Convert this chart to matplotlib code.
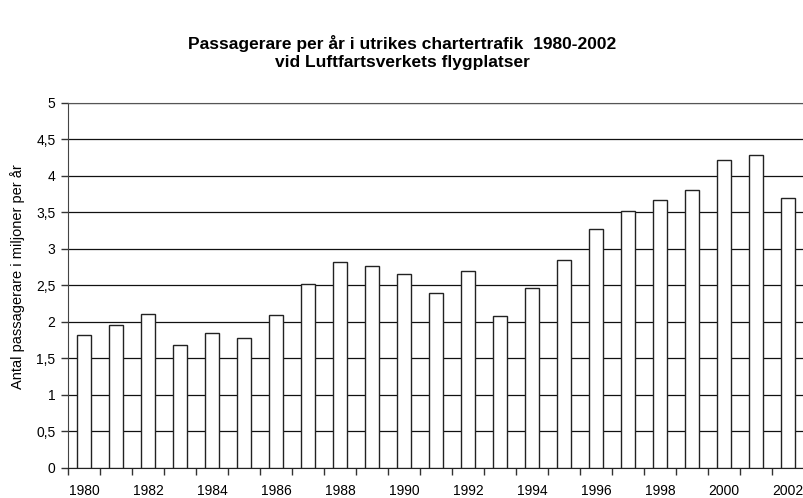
import matplotlib.pyplot as plt

plt.rcParams['font.family'] = ['Liberation Sans', 'DejaVu Sans']

years = list(range(1980, 2003))
passengers = [1.82, 1.95, 2.10, 1.68, 1.84, 1.78, 2.09, 2.52, 2.82, 2.77,
              2.66, 2.40, 2.69, 2.08, 2.46, 2.84, 3.27, 3.52, 3.67, 3.81,
              4.22, 4.29, 3.69]
yticks = [0, 0.5, 1, 1.5, 2, 2.5, 3, 3.5, 4, 4.5, 5]
ytick_labels = ['0', '0,5', '1', '1,5', '2', '2,5', '3', '3,5', '4', '4,5', '5']

fig = plt.figure(figsize=(8.04, 4.98), dpi=100)
ax = fig.add_axes([68 / 804, 30.5 / 498, 1 - 68 / 804, 364.5 / 498])

x = list(range(len(years)))
ax.bar(x, passengers, width=0.41, color='white', edgecolor='#222222',
       linewidth=1.0, zorder=3)

ax.set_ylim(0, 5)
ax.set_xlim(-0.5, len(years) - 0.5)
ax.set_yticks(yticks)
ax.set_yticklabels(ytick_labels, fontsize=10)
ax.yaxis.grid(True, color='#111111', linewidth=0.9, zorder=0)

# year labels every other year at bar centers, ticks at category edges
ax.set_xticks(x[::2])
ax.set_xticklabels([str(y) for y in years[::2]], fontsize=10)
ax.tick_params(axis='x', which='major', length=0, pad=12)
ax.set_xticks([i - 0.5 for i in range(len(years) + 1)], minor=True)
ax.tick_params(axis='x', which='minor', length=5, width=1, color='#333333')
ax.tick_params(axis='y', length=5, width=1, color='#333333', pad=4)

ax.spines['right'].set_visible(False)
ax.spines['top'].set_color('#555555')
ax.spines['left'].set_color('#444444')
ax.spines['bottom'].set_color('#222222')

ax.set_ylabel('Antal passagerare i miljoner per år', fontsize=10.5)
ax.yaxis.set_label_coords(-0.058, 0.525)

fig.text(0.5, 1 - 43 / 498, 'Passagerare per år i utrikes chartertrafik  1980-2002',
         ha='center', va='center', fontsize=12.5, fontweight='bold')
fig.text(0.5, 1 - 62 / 498, 'vid Luftfartsverkets flygplatser',
         ha='center', va='center', fontsize=12.5, fontweight='bold')

fig.savefig('out.png', dpi=100)
